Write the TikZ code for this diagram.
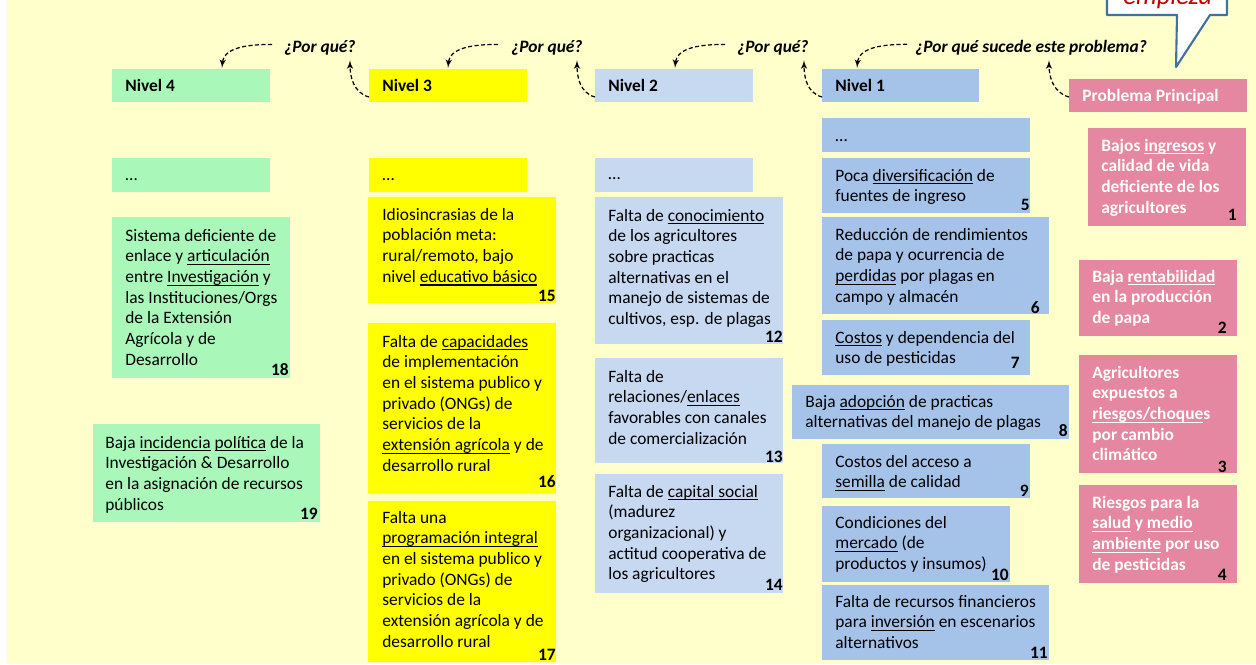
\documentclass[tikz,border=0pt]{standalone}
\usepackage{fontspec}
\setmainfont{Carlito}
\usetikzlibrary{arrows}
\usetikzlibrary{calc}

% subrayado a profundidad fija
\newcommand{\subr}[1]{\leavevmode\setbox0\hbox{#1}\rlap{\rule[-1.9pt]{\wd0}{0.7pt}}\box0\relax}
% bloque de lineas con la linea base en la primera
\newcommand{\lineas}[1]{\begin{tabular}[t]{@{}l@{}}#1\end{tabular}}

\definecolor{fondo}{RGB}{255,255,204}
\definecolor{nivcuatro}{RGB}{170,247,186}
\definecolor{nivtres}{RGB}{255,255,0}
\definecolor{nivdos}{RGB}{198,217,241}
\definecolor{nivuno}{RGB}{165,195,233}
\definecolor{problema}{RGB}{229,135,160}
\definecolor{globo}{RGB}{65,113,156}
\definecolor{rojo}{RGB}{192,0,0}

\tikzset{
  caja/.style={anchor=north west, inner sep=0pt, outer sep=0pt},
  texto/.style={anchor=base west, inner sep=0pt,
    font=\fontsize{9.9}{11.8}\selectfont},
  textob/.style={anchor=base west, inner sep=0pt, text=white,
    font=\fontsize{9.9}{11.8}\selectfont\bfseries},
  titulo/.style={anchor=base west, inner sep=0pt,
    font=\fontsize{9.9}{11.8}\selectfont\bfseries},
  numero/.style={anchor=base east, inner sep=0pt,
    font=\fontsize{9.9}{11.8}\selectfont\bfseries},
  pregunta/.style={anchor=base west, inner sep=0pt,
    font=\fontsize{9.9}{11.8}\selectfont\bfseries\itshape},
  flecha/.style={->, dash pattern=on 2.3pt off 1.4pt, line width=0.7pt}
}

\begin{document}
\begin{tikzpicture}[x=0.02cm, y=-0.02cm, >=latex']
      \useasboundingbox (0,0) rectangle (1256,664);
      \clip (0,0) rectangle (1256,664);
      \fill [fondo] (7,0) rectangle (1256,664);

      % globo arriba a la derecha
      \draw [globo, line width=1.2pt, fill=white, line join=round]
      (1107,-40) -- (1227,-40) -- (1227,15) -- (1210,15) -- (1176,67)
      -- (1177,15) -- (1107,15) -- cycle;
      \node at (1123,4) [anchor=base west, inner sep=0pt, text=rojo,
      font=\fontsize{15}{18}\selectfont\itshape, name=empieza] {empieza};

      % cabeceras
      \node at (112,69) [caja, minimum width=3.16cm, minimum height=0.66cm, name=niv4, fill=nivcuatro] {};
      \node at (125,91) [titulo, name=tniv4] {Nivel 4};
      \node at (369,69) [caja, minimum width=3.16cm, minimum height=0.66cm, name=niv3, fill=nivtres] {};
      \node at (382,91) [titulo, name=tniv3] {Nivel 3};
      \node at (595,69) [caja, minimum width=3.16cm, minimum height=0.66cm, name=niv2, fill=nivdos] {};
      \node at (608,91) [titulo, name=tniv2] {Nivel 2};
      \node at (822,69) [caja, minimum width=3.14cm, minimum height=0.66cm, name=niv1, fill=nivuno] {};
      \node at (835,91) [titulo, name=tniv1] {Nivel 1};
      \node at (1069,79) [caja, minimum width=3.56cm, minimum height=0.66cm, name=prob, fill=problema] {};
      \node at (1082,101) [titulo, text=white, name=tprob] {Problema Principal};

      % preguntas
      \node at (284,52) [pregunta, name=q4] {¿Por qué?};
      \node at (511,52) [pregunta, name=q3] {¿Por qué?};
      \node at (737,52) [pregunta, name=q2] {¿Por qué?};
      \node at (915,52) [pregunta, name=q1] {¿Por qué sucede este problema?};

      \draw [flecha] ($(prob.south west)+(0,-15)$) to [out=165, in=-90] ($(q1.south west)+(134,5)$);
      \draw [flecha] ($(q1.west)+(-8,-3)$) to [out=180, in=85] ($(niv1.north west)+(35,-1)$);
      \draw [flecha] ($(niv1.south west)+(0,-5)$) to [out=165, in=-90] ($(q2.south west)+(67,5)$);
      \draw [flecha] ($(q2.west)+(-12,-3)$) to [out=180, in=85] ($(niv2.north west)+(80,-1)$);
      \draw [flecha] ($(niv2.south west)+(0,-5)$) to [out=165, in=-90] ($(q3.south west)+(66,5)$);
      \draw [flecha] ($(q3.west)+(-13,-3)$) to [out=180, in=85] ($(niv3.north west)+(79,-1)$);
      \draw [flecha] ($(niv3.south west)+(0,-5)$) to [out=165, in=-90] ($(q4.south west)+(66,5)$);
      \draw [flecha] ($(q4.west)+(-12,-3)$) to [out=180, in=85] ($(niv4.north west)+(110,-1)$);

      % Nivel 4
      \node at (112,158) [caja, minimum width=3.16cm, minimum height=0.68cm, name=c4a, fill=nivcuatro] {};
      \node at (125,180) [texto, name=t4a] {…};
      \node at (112,217) [caja, minimum width=3.56cm, minimum height=3.22cm, name=c18, fill=nivcuatro] {};
      \node at (125,241) [texto, name=t18]
      {\lineas{Sistema deficiente de\\enlace y \subr{articulación}\\entre \subr{Investigación} y\\las Instituciones/Orgs\\de la Extensión\\Agrícola y de\\Desarrollo}};
      \node at (289,375) [numero, name=n18] {18};
      \node at (93,424) [caja, minimum width=4.54cm, minimum height=1.96cm, name=c19, fill=nivcuatro] {};
      \node at (105,448) [texto, name=t19]
      {\lineas{Baja \subr{incidencia} \subr{política} de la\\Investigación \& Desarrollo\\en la asignación de recursos\\públicos}};
      \node at (318,519) [numero, name=n19] {19};

      % Nivel 3
      \node at (369,158) [caja, minimum width=3.16cm, minimum height=0.68cm, name=c3a, fill=nivtres] {};
      \node at (382,180) [texto, name=t3a] {…};
      \node at (368,197) [caja, minimum width=3.76cm, minimum height=2.12cm, name=c15, fill=nivtres] {};
      \node at (382,220) [texto, name=t15]
      {\lineas{Idiosincrasias de la\\población meta:\\rural/remoto, bajo\\nivel \subr{educativo básico}}};
      \node at (556,301) [numero, name=n15] {15};
      \node at (368,323) [caja, minimum width=3.76cm, minimum height=3.40cm, name=c16, fill=nivtres] {};
      \node at (382,347) [texto, name=t16]
      {\lineas{Falta de \subr{capacidades}\\de implementación\\en el sistema publico y\\privado (ONGs) de\\servicios de la\\\subr{extensión agrícola} y de\\desarrollo rural}};
      \node at (556,487) [numero, name=n16] {16};
      \node at (368,501) [caja, minimum width=3.76cm, minimum height=3.22cm, name=c17, fill=nivtres] {};
      \node at (382,523) [texto, name=t17]
      {\lineas{Falta una\\\subr{programación integral}\\en el sistema publico y\\privado (ONGs) de\\servicios de la\\extensión agrícola y de\\desarrollo rural}};
      \node at (556,660) [numero, name=n17] {17};

      % Nivel 2
      \node at (595,158) [caja, minimum width=3.16cm, minimum height=0.68cm, name=c2a, fill=nivdos] {};
      \node at (608,179) [texto, name=t2a] {…};
      \node at (595,197) [caja, minimum width=3.76cm, minimum height=2.94cm, name=c12, fill=nivdos] {};
      \node at (608,221) [texto, name=t12]
      {\lineas{Falta de \subr{conocimiento}\\de los agricultores\\sobre practicas\\alternativas en el\\manejo de sistemas de\\cultivos, esp. de plagas}};
      \node at (783,342) [numero, name=n12] {12};
      \node at (595,358) [caja, minimum width=3.76cm, minimum height=2.10cm, name=c13, fill=nivdos] {};
      \node at (608,382) [texto, name=t13]
      {\lineas{Falta de\\relaciones/\subr{enlaces}\\favorables con canales\\de comercialización}};
      \node at (783,462) [numero, name=n13] {13};
      \node at (595,474) [caja, minimum width=3.76cm, minimum height=2.38cm, name=c14, fill=nivdos] {};
      \node at (608,497) [texto, name=t14]
      {\lineas{Falta de \subr{capital social}\\(madurez\\organizacional) y\\actitud cooperativa de\\los agricultores}};
      \node at (783,590) [numero, name=n14] {14};

      % Nivel 1
      \node at (822,118) [caja, minimum width=4.16cm, minimum height=0.68cm, name=c1a, fill=nivuno] {};
      \node at (835,141) [texto, name=t1a] {…};
      \node at (822,158) [caja, minimum width=4.16cm, minimum height=1.10cm, name=c5, fill=nivuno] {};
      \node at (835,181) [texto, name=t5]
      {\lineas{Poca \subr{diversificación} de\\fuentes de ingreso}};
      \node at (1030,210) [numero, name=n5] {5};
      \node at (822,217) [caja, minimum width=4.54cm, minimum height=1.94cm, name=c6, fill=nivuno] {};
      \node at (835,240) [texto, name=t6]
      {\lineas{Reducción de rendimientos\\de papa y ocurrencia de\\\subr{perdidas} por plagas en\\campo y almacén}};
      \node at (1040,313) [numero, name=n6] {6};
      \node at (822,320) [caja, minimum width=4.16cm, minimum height=1.10cm, name=c7, fill=nivuno] {};
      \node at (835,343) [texto, name=t7]
      {\lineas{\subr{Costos} y dependencia del\\uso de pesticidas}};
      \node at (1020,368) [numero, name=n7] {7};
      \node at (792,385) [caja, minimum width=5.54cm, minimum height=1.08cm, name=c8, fill=nivuno] {};
      \node at (805,407) [texto, name=t8]
      {\lineas{Baja \subr{adopción} de practicas\\alternativas del manejo de plagas}};
      \node at (1068,436) [numero, name=n8] {8};
      \node at (822,444) [caja, minimum width=4.16cm, minimum height=1.08cm, name=c9, fill=nivuno] {};
      \node at (835,467) [texto, name=t9]
      {\lineas{Costos del acceso a\\\subr{semilla} de calidad}};
      \node at (1029,496) [numero, name=n9] {9};
      \node at (822,506) [caja, minimum width=3.76cm, minimum height=1.52cm, name=c10, fill=nivuno] {};
      \node at (835,528) [texto, name=t10]
      {\lineas{Condiciones del\\\subr{mercado} (de\\productos y insumos)}};
      \node at (1009,580) [numero, name=n10] {10};
      \node at (822,585) [caja, minimum width=4.54cm, minimum height=1.50cm, name=c11, fill=nivuno] {};
      \node at (835,607) [texto, name=t11]
      {\lineas{Falta de recursos financieros\\para \subr{inversión} en escenarios\\alternativos}};
      \node at (1048,658) [numero, name=n11] {11};

      % Problema principal
      \node at (1088,128) [caja, minimum width=3.16cm, minimum height=1.96cm, name=c1, fill=problema] {};
      \node at (1101,151) [textob, name=t1]
      {\lineas{Bajos \subr{ingresos} y\\calidad de vida\\deficiente de los\\agricultores}};
      \node at (1237,220) [numero, name=n1] {1};
      \node at (1079,260) [caja, minimum width=3.16cm, minimum height=1.52cm, name=c2, fill=problema] {};
      \node at (1092,282) [textob, name=t2]
      {\lineas{Baja \subr{rentabilidad}\\en la producción\\de papa}};
      \node at (1227,333) [numero, name=n2] {2};
      \node at (1079,355) [caja, minimum width=3.16cm, minimum height=2.36cm, name=c3, fill=problema] {};
      \node at (1092,378) [textob, name=t3]
      {\lineas{Agricultores\\expuestos a\\\subr{riesgos/choque}s\\por cambio\\climático}};
      \node at (1227,472) [numero, name=n3] {3};
      \node at (1079,485) [caja, minimum width=3.16cm, minimum height=1.96cm, name=c4, fill=problema] {};
      \node at (1092,508) [textob, name=t4]
      {\lineas{Riesgos para la\\\subr{salud} y \subr{medio}\\\subr{ambiente} por uso\\de pesticidas}};
      \node at (1227,580) [numero, name=n4] {4};
\end{tikzpicture}
\end{document}
